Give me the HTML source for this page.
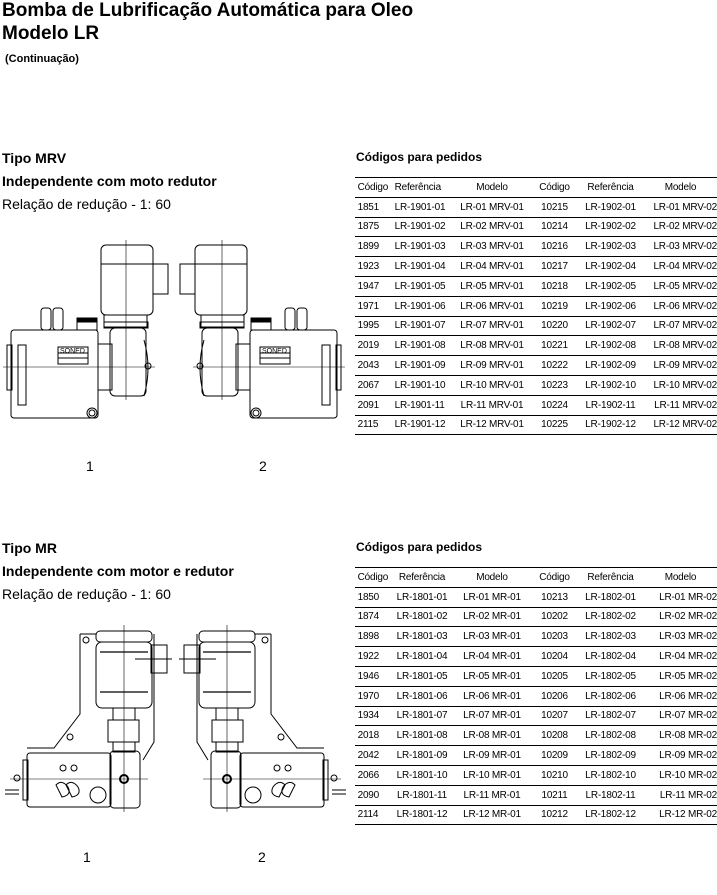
<!DOCTYPE html>
<html><head><meta charset="utf-8"><style>
body{margin:0;width:717px;height:895px;background:#fff;position:relative;font-family:"Liberation Sans",Arial,sans-serif;color:#000;overflow:hidden}
.a{position:absolute;white-space:nowrap}
.h1{font-weight:bold;font-size:19px}
.h2{font-weight:bold;font-size:14px}
.n{font-size:14px}
table{position:absolute;border-collapse:collapse;font-size:10px;letter-spacing:-0.2px;width:362px}
td{height:18.8px;border-bottom:1px solid #000;padding:0;white-space:nowrap}
tr:first-child td{border-top:1px solid #000}
</style></head><body>
<div class="a h1" style="left:2px;top:0">Bomba de Lubrificação Automática para Oleo</div>
<div class="a h1" style="left:2px;top:23px">Modelo LR</div>
<div class="a" style="left:5px;top:53px;font-size:11px;font-weight:bold">(Continuação)</div>

<div class="a h2" style="left:2px;top:150px">Tipo MRV</div>
<div class="a h2" style="left:2px;top:173px">Independente com moto redutor</div>
<div class="a n" style="left:2px;top:196px">Relação de redução - 1: 60</div>
<div class="a h2" style="left:356px;top:150px;font-size:12px">Códigos para pedidos</div>

<div class="a h2" style="left:2px;top:540px">Tipo MR</div>
<div class="a h2" style="left:2px;top:563px">Independente com motor e redutor</div>
<div class="a n" style="left:2px;top:586px">Relação de redução - 1: 60</div>
<div class="a h2" style="left:356px;top:540px;font-size:12px">Códigos para pedidos</div>

<div class="a n" style="left:86px;top:458px">1</div>
<div class="a n" style="left:259px;top:458px">2</div>
<div class="a n" style="left:83px;top:849px">1</div>
<div class="a n" style="left:258px;top:849px">2</div>

<table style="left:355px;top:177px">
<colgroup><col style="width:37px"><col style="width:60px"><col style="width:80px"><col style="width:45px"><col style="width:67px"><col></colgroup>
<tr><td>&nbsp;Código</td><td>&nbsp;Referência</td><td style="text-align:center">Modelo</td><td style="text-align:center">Código</td><td style="text-align:center">Referência</td><td style="text-align:center">Modelo</td></tr>
<tr><td>&nbsp;1851</td><td>&nbsp;LR-1901-01</td><td style="text-align:center">LR-01 MRV-01</td><td style="text-align:center">10215</td><td style="text-align:center">LR-1902-01</td><td style="text-align:right">LR-01 MRV-02</td></tr>
<tr><td>&nbsp;1875</td><td>&nbsp;LR-1901-02</td><td style="text-align:center">LR-02 MRV-01</td><td style="text-align:center">10214</td><td style="text-align:center">LR-1902-02</td><td style="text-align:right">LR-02 MRV-02</td></tr>
<tr><td>&nbsp;1899</td><td>&nbsp;LR-1901-03</td><td style="text-align:center">LR-03 MRV-01</td><td style="text-align:center">10216</td><td style="text-align:center">LR-1902-03</td><td style="text-align:right">LR-03 MRV-02</td></tr>
<tr><td>&nbsp;1923</td><td>&nbsp;LR-1901-04</td><td style="text-align:center">LR-04 MRV-01</td><td style="text-align:center">10217</td><td style="text-align:center">LR-1902-04</td><td style="text-align:right">LR-04 MRV-02</td></tr>
<tr><td>&nbsp;1947</td><td>&nbsp;LR-1901-05</td><td style="text-align:center">LR-05 MRV-01</td><td style="text-align:center">10218</td><td style="text-align:center">LR-1902-05</td><td style="text-align:right">LR-05 MRV-02</td></tr>
<tr><td>&nbsp;1971</td><td>&nbsp;LR-1901-06</td><td style="text-align:center">LR-06 MRV-01</td><td style="text-align:center">10219</td><td style="text-align:center">LR-1902-06</td><td style="text-align:right">LR-06 MRV-02</td></tr>
<tr><td>&nbsp;1995</td><td>&nbsp;LR-1901-07</td><td style="text-align:center">LR-07 MRV-01</td><td style="text-align:center">10220</td><td style="text-align:center">LR-1902-07</td><td style="text-align:right">LR-07 MRV-02</td></tr>
<tr><td>&nbsp;2019</td><td>&nbsp;LR-1901-08</td><td style="text-align:center">LR-08 MRV-01</td><td style="text-align:center">10221</td><td style="text-align:center">LR-1902-08</td><td style="text-align:right">LR-08 MRV-02</td></tr>
<tr><td>&nbsp;2043</td><td>&nbsp;LR-1901-09</td><td style="text-align:center">LR-09 MRV-01</td><td style="text-align:center">10222</td><td style="text-align:center">LR-1902-09</td><td style="text-align:right">LR-09 MRV-02</td></tr>
<tr><td>&nbsp;2067</td><td>&nbsp;LR-1901-10</td><td style="text-align:center">LR-10 MRV-01</td><td style="text-align:center">10223</td><td style="text-align:center">LR-1902-10</td><td style="text-align:right">LR-10 MRV-02</td></tr>
<tr><td>&nbsp;2091</td><td>&nbsp;LR-1901-11</td><td style="text-align:center">LR-11 MRV-01</td><td style="text-align:center">10224</td><td style="text-align:center">LR-1902-11</td><td style="text-align:right">LR-11 MRV-02</td></tr>
<tr><td>&nbsp;2115</td><td>&nbsp;LR-1901-12</td><td style="text-align:center">LR-12 MRV-01</td><td style="text-align:center">10225</td><td style="text-align:center">LR-1902-12</td><td style="text-align:right">LR-12 MRV-02</td></tr>
</table>

<table style="left:355px;top:567px">
<colgroup><col style="width:37px"><col style="width:60px"><col style="width:80px"><col style="width:45px"><col style="width:67px"><col></colgroup>
<tr><td>&nbsp;Código</td><td style="text-align:center">Referência</td><td style="text-align:center">Modelo</td><td style="text-align:center">Código</td><td style="text-align:center">Referência</td><td style="text-align:center">Modelo</td></tr>
<tr><td>&nbsp;1850</td><td style="text-align:center">LR-1801-01</td><td style="text-align:center">LR-01 MR-01</td><td style="text-align:center">10213</td><td style="text-align:center">LR-1802-01</td><td style="text-align:right">LR-01 MR-02</td></tr>
<tr><td>&nbsp;1874</td><td style="text-align:center">LR-1801-02</td><td style="text-align:center">LR-02 MR-01</td><td style="text-align:center">10202</td><td style="text-align:center">LR-1802-02</td><td style="text-align:right">LR-02 MR-02</td></tr>
<tr><td>&nbsp;1898</td><td style="text-align:center">LR-1801-03</td><td style="text-align:center">LR-03 MR-01</td><td style="text-align:center">10203</td><td style="text-align:center">LR-1802-03</td><td style="text-align:right">LR-03 MR-02</td></tr>
<tr><td>&nbsp;1922</td><td style="text-align:center">LR-1801-04</td><td style="text-align:center">LR-04 MR-01</td><td style="text-align:center">10204</td><td style="text-align:center">LR-1802-04</td><td style="text-align:right">LR-04 MR-02</td></tr>
<tr><td>&nbsp;1946</td><td style="text-align:center">LR-1801-05</td><td style="text-align:center">LR-05 MR-01</td><td style="text-align:center">10205</td><td style="text-align:center">LR-1802-05</td><td style="text-align:right">LR-05 MR-02</td></tr>
<tr><td>&nbsp;1970</td><td style="text-align:center">LR-1801-06</td><td style="text-align:center">LR-06 MR-01</td><td style="text-align:center">10206</td><td style="text-align:center">LR-1802-06</td><td style="text-align:right">LR-06 MR-02</td></tr>
<tr><td>&nbsp;1934</td><td style="text-align:center">LR-1801-07</td><td style="text-align:center">LR-07 MR-01</td><td style="text-align:center">10207</td><td style="text-align:center">LR-1802-07</td><td style="text-align:right">LR-07 MR-02</td></tr>
<tr><td>&nbsp;2018</td><td style="text-align:center">LR-1801-08</td><td style="text-align:center">LR-08 MR-01</td><td style="text-align:center">10208</td><td style="text-align:center">LR-1802-08</td><td style="text-align:right">LR-08 MR-02</td></tr>
<tr><td>&nbsp;2042</td><td style="text-align:center">LR-1801-09</td><td style="text-align:center">LR-09 MR-01</td><td style="text-align:center">10209</td><td style="text-align:center">LR-1802-09</td><td style="text-align:right">LR-09 MR-02</td></tr>
<tr><td>&nbsp;2066</td><td style="text-align:center">LR-1801-10</td><td style="text-align:center">LR-10 MR-01</td><td style="text-align:center">10210</td><td style="text-align:center">LR-1802-10</td><td style="text-align:right">LR-10 MR-02</td></tr>
<tr><td>&nbsp;2090</td><td style="text-align:center">LR-1801-11</td><td style="text-align:center">LR-11 MR-01</td><td style="text-align:center">10211</td><td style="text-align:center">LR-1802-11</td><td style="text-align:right">LR-11 MR-02</td></tr>
<tr><td>&nbsp;2114</td><td style="text-align:center">LR-1801-12</td><td style="text-align:center">LR-12 MR-01</td><td style="text-align:center">10212</td><td style="text-align:center">LR-1802-12</td><td style="text-align:right">LR-12 MR-02</td></tr>
</table>

<svg class="a" style="left:0;top:0" width="717" height="895" fill="none" stroke="#000" stroke-width="1">
<defs>
<g id="mrv">
  <rect x="11" y="330" width="87" height="88" rx="3"/>
  <rect x="7" y="345" width="5" height="45"/>
  <rect x="18" y="345" width="8" height="60"/>
  <rect x="58" y="347" width="30" height="17"/>
  <rect x="58" y="353" width="30" height="5"/>
  <rect x="41" y="308" width="10" height="22" rx="3"/><rect x="53" y="308" width="10" height="22" rx="3"/>
  <rect x="77" y="318" width="20" height="12"/><rect x="77" y="318" width="20" height="4" fill="#000"/>
  <rect x="98" y="344" width="14" height="46"/>
  <rect x="101" y="245" width="52" height="70" rx="5"/>
  <line x1="101" y1="264" x2="153" y2="264"/>
  <rect x="153" y="264" width="15" height="30"/>
  <rect x="104" y="315" width="43" height="12"/>
  <rect x="104" y="322" width="44" height="6"/>
  <rect x="110" y="328" width="36" height="68" rx="5"/>
  <path d="M144 340 q8 28 0 56"/>
  <circle cx="148" cy="366" r="3"/>
  <circle cx="92" cy="413" r="5"/><circle cx="92" cy="413" r="3"/>
  <line x1="3" y1="367" x2="155" y2="367" stroke-width=".6"/>
  <line x1="126" y1="240" x2="126" y2="400" stroke-width=".6"/>
</g>
<g id="mr">
  <path d="M80 634 H96 M80 634 V714 L54 748 H27 M154 634 V742 L143 760" />
  <rect x="96" y="631" width="56" height="11" rx="4"/>
  <rect x="96" y="642" width="56" height="66" rx="6"/>
  <line x1="100" y1="652" x2="148" y2="652" stroke-width="1.3"/>
  <line x1="100" y1="692" x2="148" y2="692" stroke-width="1.3"/>
  <rect x="151" y="645" width="16" height="28"/>
  <line x1="135" y1="659" x2="172" y2="659"/>
  <rect x="113" y="708" width="22" height="12"/>
  <rect x="108" y="720" width="31" height="22"/>
  <rect x="113" y="742" width="22" height="10"/>
  <rect x="110" y="751" width="30" height="57" rx="4"/>
  <rect x="27" y="753" width="84" height="54" rx="3"/>
  <rect x="23" y="760" width="5" height="40"/>
  <path d="M5 790 h14 M5 794 h14" /><circle cx="17" cy="778" r="3"/>
  <circle cx="63" cy="768" r="3"/><circle cx="74" cy="768" r="3"/>
  <path d="M56 785 q6 -6 12 2 q4 8 -6 10 z"/><path d="M66 785 q6 -6 12 2 q4 8 -6 10 z"/>
  <circle cx="98" cy="795" r="8"/>
  <circle cx="124" cy="779" r="4" stroke-width="2"/>
  <circle cx="86" cy="640" r="3"/><circle cx="70" cy="737" r="3"/>
  <line x1="10" y1="779" x2="148" y2="779" stroke-width=".6"/>
  <line x1="124" y1="625" x2="124" y2="812" stroke-width=".6"/>
</g>
</defs>
<use href="#mrv"/>
<use href="#mrv" transform="translate(348,0) scale(-1,1)"/>
<use href="#mr"/>
<use href="#mr" transform="translate(351,0) scale(-1,1)"/>
<text x="60" y="353" font-size="7" stroke="none" fill="#000" font-family="Liberation Sans">SONED</text>
<text x="262" y="353" font-size="7" stroke="none" fill="#000" font-family="Liberation Sans">SONED</text>
</svg>
</body></html>
